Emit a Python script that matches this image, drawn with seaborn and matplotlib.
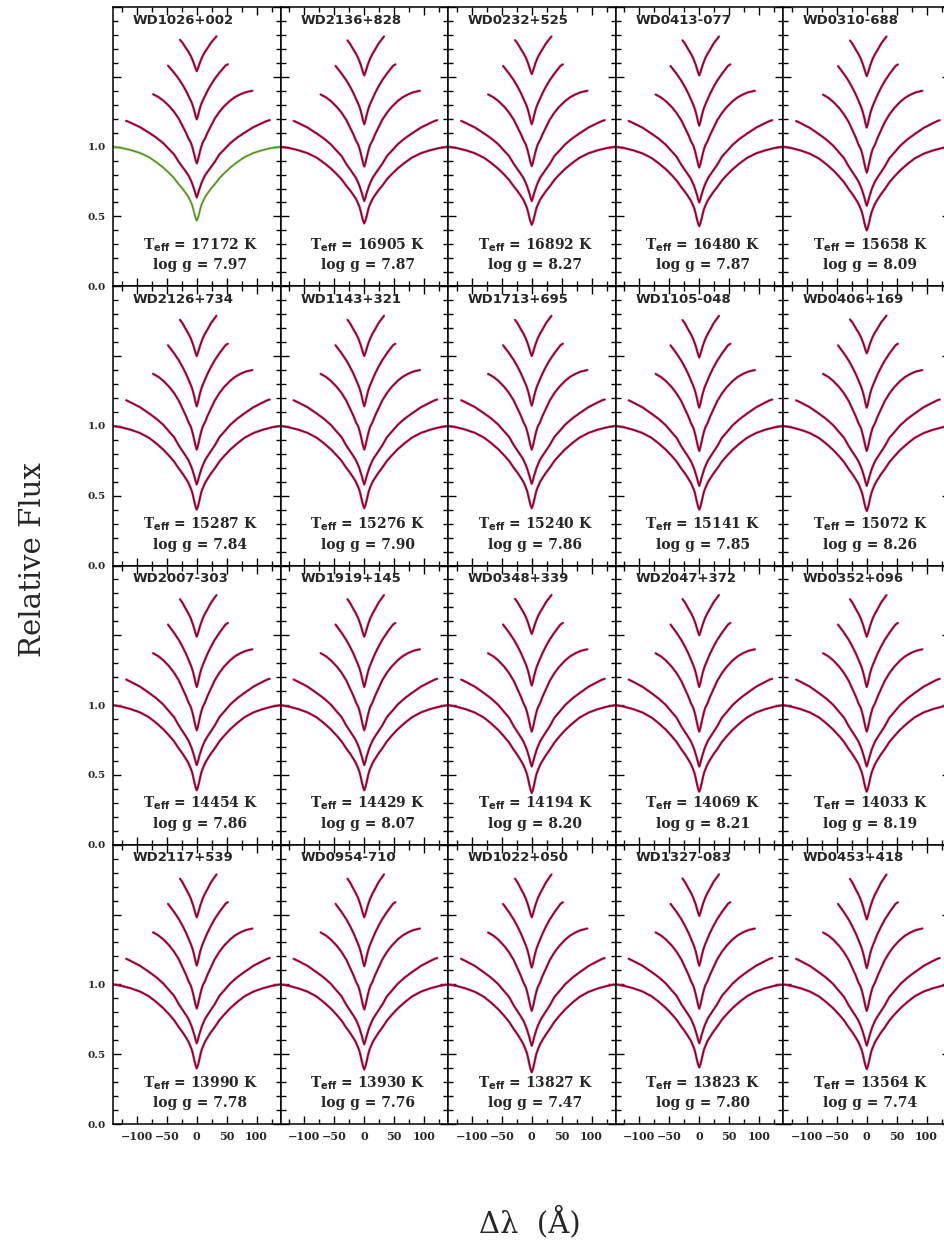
import numpy as np
import pandas as pd
import matplotlib
matplotlib.use("Agg")
import matplotlib.pyplot as plt
import seaborn as sns
from matplotlib.ticker import MultipleLocator, FixedLocator, FixedFormatter

# ---------------- data ----------------
names = ["WD1026+002", "WD2136+828", "WD0232+525", "WD0413-077", "WD0310-688",
         "WD2126+734", "WD1143+321", "WD1713+695", "WD1105-048", "WD0406+169",
         "WD2007-303", "WD1919+145", "WD0348+339", "WD2047+372", "WD0352+096",
         "WD2117+539", "WD0954-710", "WD1022+050", "WD1327-083", "WD0453+418"]
teff = [17172, 16905, 16892, 16480, 15658,
        15287, 15276, 15240, 15141, 15072,
        14454, 14429, 14194, 14069, 14033,
        13990, 13930, 13827, 13823, 13564]
logg = ["7.97", "7.87", "8.27", "7.87", "8.09",
        "7.84", "7.90", "7.86", "7.85", "8.26",
        "7.86", "8.07", "8.20", "8.21", "8.19",
        "7.78", "7.76", "7.47", "7.80", "7.74"]

# line-profile shapes: |delta lambda| (A) and normalised flux
hb_dl = [0, 2, 4, 6, 8, 10, 14, 18, 24, 30, 38, 46, 56, 68, 80, 95, 110, 125, 140, 155]
hb_fx = [0.47, 0.49, 0.52, 0.555, 0.585, 0.605, 0.64, 0.665, 0.70, 0.73, 0.775, 0.81,
         0.85, 0.89, 0.925, 0.955, 0.975, 0.99, 1.0, 1.0]
hg_dl = [0, 2, 4, 6, 8, 10, 14, 18, 24, 30, 38, 46, 56, 68, 80, 95, 110, 118, 122]
hg_fx = [0.436, 0.46, 0.49, 0.515, 0.54, 0.56, 0.595, 0.62, 0.655, 0.69, 0.745, 0.78,
         0.825, 0.866, 0.9, 0.94, 0.97, 0.985, 0.99]
hd_dl = [0, 2, 4, 6, 8, 10, 14, 18, 24, 30, 38, 46, 56, 64, 73, 82, 93]
hd_fx = [0.48, 0.505, 0.54, 0.575, 0.605, 0.63, 0.66, 0.70, 0.75, 0.80, 0.85, 0.89,
         0.93, 0.955, 0.975, 0.99, 1.0]
he_dl = [0, 2, 4, 6, 8, 10, 14, 18, 24, 30, 38, 44, 48, 52]
he_fx = [0.595, 0.62, 0.655, 0.685, 0.71, 0.73, 0.765, 0.80, 0.845, 0.885, 0.93,
         0.96, 0.98, 0.99]
h8_dl = [0, 2, 4, 6, 8, 10, 14, 18, 24, 28, 33]
h8_fx = [0.74, 0.76, 0.785, 0.81, 0.83, 0.85, 0.88, 0.905, 0.945, 0.965, 0.99]

# blue / red extent of each plotted line window (A)
ext_blue = [155, 120, 73, 48, 28]
ext_red = [155, 122, 93, 52, 33]
offsets = [0.0, 0.2, 0.4, 0.6, 0.8]

# central (normalised) flux of each line in each panel
core_hb = [0.47, 0.45, 0.44, 0.43, 0.40, 0.40, 0.41, 0.41, 0.40, 0.39,
           0.39, 0.39, 0.37, 0.38, 0.38, 0.398, 0.39, 0.37, 0.405, 0.393]
core_hg = [0.436, 0.41, 0.41, 0.40, 0.376, 0.38, 0.38, 0.385, 0.37, 0.37,
           0.37, 0.37, 0.36, 0.36, 0.36, 0.378, 0.37, 0.36, 0.378, 0.361]
core_hd = [0.48, 0.457, 0.46, 0.45, 0.414, 0.43, 0.43, 0.43, 0.42, 0.42,
           0.42, 0.42, 0.41, 0.41, 0.41, 0.427, 0.42, 0.41, 0.426, 0.41]
core_he = [0.595, 0.56, 0.56, 0.55, 0.536, 0.54, 0.54, 0.545, 0.53, 0.53,
           0.53, 0.53, 0.54, 0.53, 0.53, 0.535, 0.53, 0.52, 0.533, 0.516]
core_h8 = [0.74, 0.71, 0.72, 0.71, 0.705, 0.70, 0.70, 0.70, 0.69, 0.72,
           0.69, 0.69, 0.71, 0.70, 0.69, 0.68, 0.68, 0.68, 0.69, 0.665]

xticks_major = [-100, -50, 0, 50, 100]
xtick_labels = ["\u2212100", "\u221250", "0", "50", "100"]
yticks_major = [0.0, 0.5, 1.0, 1.5, 2.0]
ytick_labels = ["0.0", "0.5", "1.0", "", ""]

# ---------------- style ----------------
sns.set_theme(style="ticks")
plt.rcParams["font.family"] = ["DejaVu Sans"]

model_col = "#e0185a"
obs_col = "#2e0810"

W, H = 944, 1243
fig = plt.figure(figsize=(W / 100, H / 100), dpi=100)
fig.patch.set_facecolor("white")

left0, colw = 113, 167.5
top0, rowh = 7, 279.25

shapes = [(hb_dl, hb_fx), (hg_dl, hg_fx), (hd_dl, hd_fx), (he_dl, he_fx), (h8_dl, h8_fx)]
cores = [core_hb, core_hg, core_hd, core_he, core_h8]

for p in range(20):
    r, c = divmod(p, 5)
    ax = fig.add_axes([(left0 + c * colw) / W,
                       (H - (top0 + (r + 1) * rowh)) / H,
                       colw / W, rowh / H])
    ax.set_facecolor("white")
    for k, (dl, fx) in enumerate(shapes):
        dl = np.asarray(dl, float)
        fx = np.asarray(fx, float)
        scale = (1 - cores[k][p]) / (1 - fx[0])
        prof = 1 - (1 - fx) * scale + offsets[k]
        bl = dl <= ext_blue[k]
        rd = dl <= ext_red[k]
        xs = np.concatenate([-dl[bl][::-1], dl[rd][1:]])
        ys = np.concatenate([prof[bl][::-1], prof[rd][1:]])
        df = pd.DataFrame({"dl": xs, "flux": ys})
        if p == 0 and k == 0:
            mc, oc = "#8ed45a", "#3f4f1a"
        else:
            mc, oc = model_col, obs_col
        sns.lineplot(data=df, x="dl", y="flux", ax=ax, color=mc, lw=1.7,
                     estimator=None, sort=False)
        sns.lineplot(data=df, x="dl", y="flux", ax=ax, color=oc, lw=0.7,
                     alpha=0.75, estimator=None, sort=False)
    ax.set_xlim(-140, 140)
    ax.set_ylim(0, 2.0)
    ax.set_xlabel("")
    ax.set_ylabel("")
    ax.xaxis.set_major_locator(FixedLocator(xticks_major))
    ax.xaxis.set_minor_locator(MultipleLocator(25))
    ax.yaxis.set_major_locator(FixedLocator(yticks_major))
    ax.yaxis.set_minor_locator(MultipleLocator(0.1))
    ax.tick_params(which="both", direction="in", top=True, right=True,
                   bottom=True, left=True, color="black", width=1.0)
    ax.tick_params(which="major", length=6)
    ax.tick_params(which="minor", length=3.5)
    for s in ax.spines.values():
        s.set_linewidth(1.1)
        s.set_color("black")
    if c == 0:
        ax.yaxis.set_major_formatter(FixedFormatter(ytick_labels))
        ax.tick_params(axis="y", labelsize=7.5, pad=5)
        for t in ax.get_yticklabels():
            t.set_fontfamily("DejaVu Serif")
            t.set_fontweight("bold")
    else:
        ax.set_yticklabels([])
    if r == 3:
        ax.set_xticklabels(xtick_labels)
        ax.tick_params(axis="x", labelsize=8, pad=5)
        for t in ax.get_xticklabels():
            t.set_fontfamily("DejaVu Serif")
            t.set_fontweight("bold")
    else:
        ax.set_xticklabels([])
    ax.text(0.12, 0.953, names[p], transform=ax.transAxes, ha="left", va="center",
            fontsize=9.5, fontweight="bold", family="DejaVu Sans")
    ax.text(0.52, 0.147, r"T$_{\mathbf{eff}}$ = %d K" % teff[p], transform=ax.transAxes,
            ha="center", va="center", fontsize=10, fontweight="bold", family="DejaVu Serif")
    ax.text(0.52, 0.075, "log g = %s" % logg[p], transform=ax.transAxes,
            ha="center", va="center", fontsize=10, fontweight="bold", family="DejaVu Serif")

fig.text(33 / W, 1 - 560 / H, "Relative Flux", rotation=90, ha="center", va="center",
         fontsize=21, family="DejaVu Serif")
fig.text(530 / W, 1 - 1222 / H, "\u0394\u03bb  (\u00c5)", ha="center", va="center",
         fontsize=21, family="DejaVu Serif")

fig.savefig("out.png", dpi=100, facecolor="white")
